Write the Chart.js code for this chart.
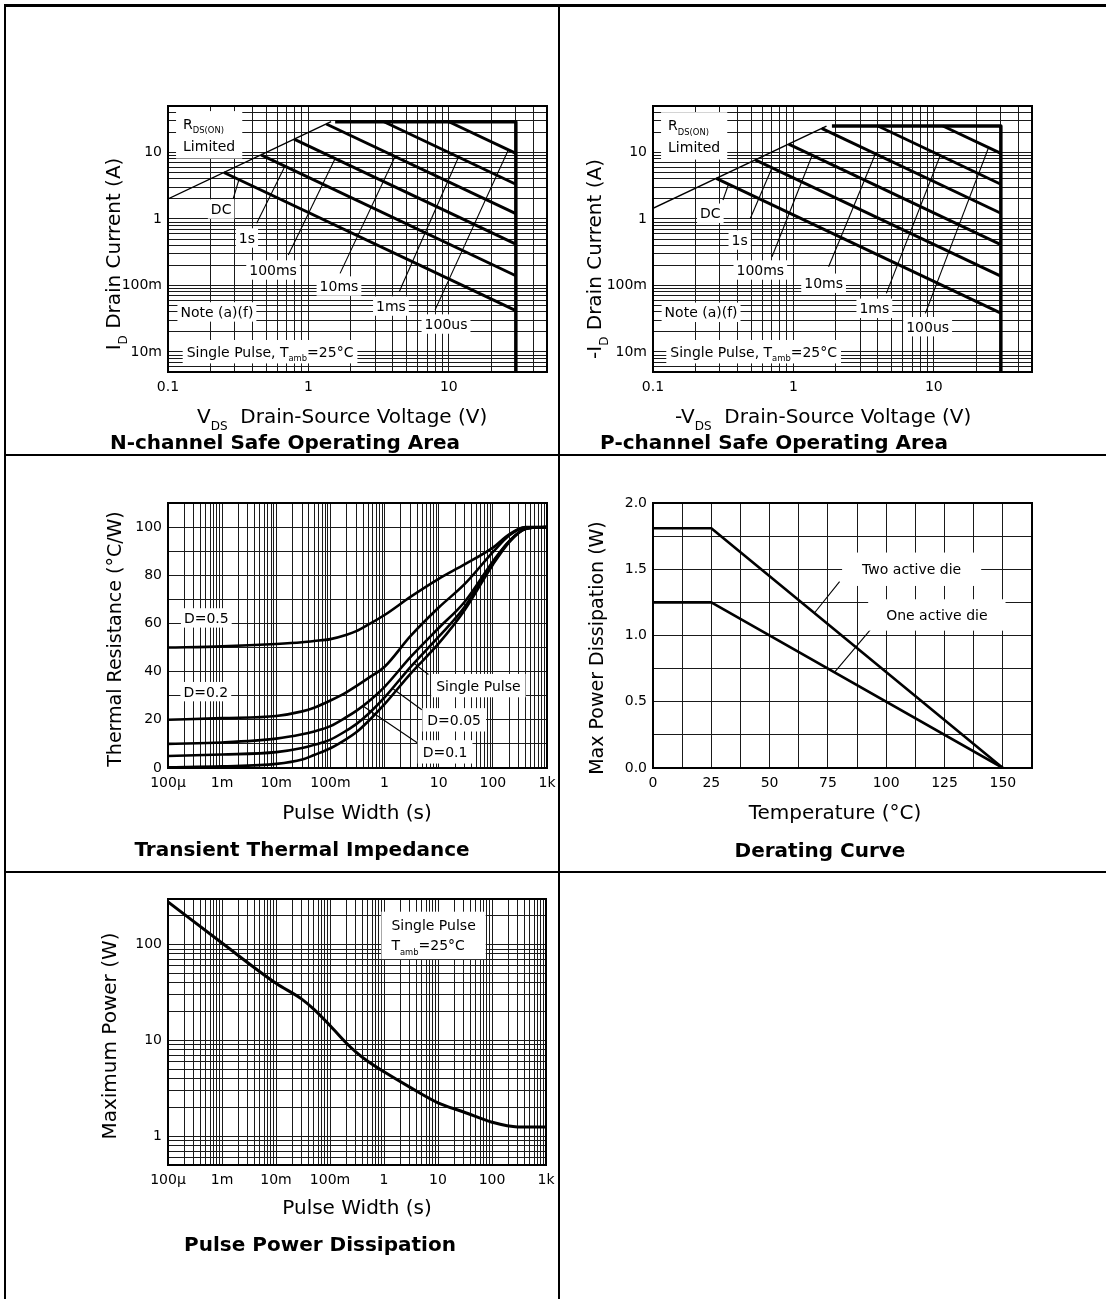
<!DOCTYPE html>
<html><head><meta charset="utf-8">
<script src="https://cdn.jsdelivr.net/npm/chart.js@4/dist/chart.umd.min.js"></script>
<style>
html,body{margin:0;padding:0;background:#fff}
body{width:1106px;height:1299px;position:relative;overflow:hidden}
canvas{position:absolute}
.ln{position:absolute;background:#000}
</style></head><body>
<canvas id="c1"></canvas><canvas id="c2"></canvas><canvas id="c3"></canvas><canvas id="c4"></canvas><canvas id="c5"></canvas>
<div class="ln" style="left:4px;top:4px;width:1102px;height:3px"></div>
<div class="ln" style="left:4px;top:4px;width:2px;height:1295px"></div>
<div class="ln" style="left:558px;top:4px;width:2px;height:1295px"></div>
<div class="ln" style="left:4px;top:454px;width:1102px;height:2px"></div>
<div class="ln" style="left:4px;top:871px;width:1102px;height:2px"></div>
<script>
// ================= DATA =================
// N-channel safe operating area  [V, A]
const nRdsLimit = [[0.1, 2.0], [1.45, 29]];
const nEnvelope = [[1.55, 29], [30, 29], [30, 0.005]];
const nDC    = [[0.25, 5.0], [30, 0.042]];
const n1s    = [[0.46, 9.2], [30, 0.14]];
const n100ms = [[0.79, 15.9], [30, 0.42]];
const n10ms  = [[1.34, 26.8], [30, 1.2]];
const n1ms   = [[3.45, 29], [30, 3.33]];
const n100us = [[10, 29], [30, 9.67]];
// P-channel safe operating area  [-V, -A]
const pRdsLimit = [[0.1, 1.45], [1.72, 25]];
const pEnvelope = [[1.88, 25], [30, 25], [30, 0.005]];
const pDC    = [[0.282, 4.08], [30, 0.0383]];
const p1s    = [[0.535, 7.76], [30, 0.138]];
const p100ms = [[0.925, 13.4], [30, 0.413]];
const p10ms  = [[1.59, 23.0], [30, 1.22]];
const p1ms   = [[4.0, 25], [30, 3.33]];
const p100us = [[11.6, 25], [30, 9.67]];
// Transient thermal impedance (°C/W) vs pulse width (s)
const zthTime   = [1e-4, 1e-3, 0.01, 0.03, 0.05, 0.1, 0.2, 0.3, 0.5, 1, 3, 10, 30, 100, 200, 400, 1000];
const zthD05    = [50, 50.5, 51.5, 52.2, 52.7, 53.5, 55.3, 56.8, 59.5, 63.5, 71, 78.5, 84.5, 91.5, 97, 100, 100];
const zthD02    = [20, 20.7, 21.6, 23.5, 25, 28, 31.5, 34, 37.3, 42, 54.7, 66.6, 76.3, 89.6, 96.5, 99.9, 100];
const zthD01    = [10, 10.6, 12.2, 14, 15.2, 17.4, 21.2, 23.7, 27.5, 33.7, 46, 58.1, 68.9, 85.7, 94.2, 99.2, 100];
const zthD005   = [5, 5.6, 6.6, 8.3, 9.6, 11.8, 15.6, 18.2, 22.4, 29.3, 41.9, 54.5, 66.8, 85.4, 94.1, 99.3, 100];
const zthSingle = [0.3, 0.7, 1.7, 3.5, 5.4, 8.2, 12.1, 14.8, 19.4, 26.5, 39.1, 51.7, 65.5, 84.4, 93.7, 99.2, 100];
// Derating curve
const derTemp   = [0, 25, 150];
const derTwoDie = [1.81, 1.81, 0];
const derOneDie = [1.25, 1.25, 0];
// Pulse power dissipation
const ppdTime  = [1e-4, 1e-3, 0.01, 0.03, 0.05, 0.1, 0.2, 0.3, 0.5, 1, 3, 10, 30, 100, 300, 1000];
const ppdPower = [280, 104, 39.5, 27, 21.2, 14.3, 9.4, 7.6, 6.05, 4.7, 3.25, 2.23, 1.79, 1.4, 1.25, 1.25];
// Tick labels
const soaXTicks = [0.1, 1, 10];           const soaXLabels = ['0.1', '1', '10'];
const soaYTicks = [0.01, 0.1, 1, 10];     const soaYLabels = ['10m', '100m', '1', '10'];
const pwXTicks  = [1e-4, 1e-3, 1e-2, 0.1, 1, 10, 100, 1000];
const pwXLabels = ['100µ', '1m', '10m', '100m', '1', '10', '100', '1k'];
const zthYTicks = [0, 20, 40, 60, 80, 100]; const zthYLabels = ['0', '20', '40', '60', '80', '100'];
const derXTicks = [0, 25, 50, 75, 100, 125, 150]; const derXLabels = ['0', '25', '50', '75', '100', '125', '150'];
const derYTicks = [0, 0.5, 1, 1.5, 2];    const derYLabels = ['0.0', '0.5', '1.0', '1.5', '2.0'];
const ppdYTicks = [1, 10, 100];           const ppdYLabels = ['1', '10', '100'];

// ================= HELPERS =================
const FAM = '"DejaVu Sans", "Liberation Sans", sans-serif';
Chart.defaults.font.family = FAM;
Chart.defaults.color = '#000';
const fnt = (s, b) => (b ? 'bold ' : '') + s + 'px ' + FAM;
const pts = a => a.map(([x, y]) => ({x, y}));
const zipPts = (xs, ys) => xs.map((x, i) => ({x, y: ys[i]}));

function logGrid(min, max) {
  const out = [];
  for (let e = Math.floor(Math.log10(min)) - 1; e <= Math.ceil(Math.log10(max)); e++)
    for (let m = 1; m < 10; m++) {
      const v = +(m * Math.pow(10, e)).toPrecision(8);
      if (v >= min * 0.9999 && v <= max * 1.0001) out.push(v);
    }
  return out;
}
function linGrid(min, max, step) {
  const out = [];
  for (let v = min; v <= max + 1e-9; v += step) out.push(+v.toFixed(6));
  return out;
}
function fmt(vals, texts) {
  return v => {
    for (let i = 0; i < vals.length; i++)
      if (Math.abs(v - vals[i]) <= Math.abs(vals[i]) * 1e-6 + 1e-9) return texts[i];
    return '';
  };
}
function axis(type, min, max, grid, tv, tt, pad) {
  return {
    type, min, max,
    afterBuildTicks: s => { s.ticks = grid.map(v => ({value: v})); },
    ticks: {autoSkip: false, maxRotation: 0, minRotation: 0, font: {size: 14}, color: '#000',
            padding: pad, callback: fmt(tv, tt)},
    grid: {color: '#1a1a1a', lineWidth: 1, drawTicks: false},
    border: {display: false}
  };
}
function partsWidth(ctx, parts, fs, bold) {
  let w = 0;
  for (const [t, k] of parts) { ctx.font = fnt(k === 'sub' ? fs * 0.6 : fs, bold); w += ctx.measureText(t).width; }
  return w;
}
function drawParts(ctx, parts, x, y, fs, bold) {
  for (const [t, k] of parts) {
    const s = k === 'sub' ? fs * 0.6 : fs;
    ctx.font = fnt(s, bold);
    ctx.fillText(t, x, y + (k === 'sub' ? fs * 0.33 : 0));
    x += ctx.measureText(t).width;
  }
}
function drawLabel(chart, lab) {
  const {ctx} = chart, xs = chart.scales.x, ys = chart.scales.y;
  const fs = lab.size || 14, lh = lab.gap || fs * 1.45;
  const widths = lab.lines.map(l => partsWidth(ctx, l, fs));
  const maxW = Math.max(...widths);
  const px = xs.getPixelForValue(lab.x), py = ys.getPixelForValue(lab.y);
  const left = lab.align === 'left' ? px : px - maxW / 2;
  const padX = lab.pad ? lab.pad[0] : 3, padY = lab.pad ? lab.pad[1] : 2;
  const top = py - fs * 0.55 - padY;
  const bottom = py + (lab.lines.length - 1) * lh + fs * 0.55 + padY;
  ctx.fillStyle = '#fff';
  ctx.fillRect(left - padX, top, maxW + 2 * padX, bottom - top);
  ctx.fillStyle = '#000';
  ctx.textAlign = 'left'; ctx.textBaseline = 'alphabetic';
  lab.lines.forEach((l, i) => {
    const lx = lab.align === 'left' ? left : px - widths[i] / 2;
    drawParts(ctx, l, lx, py + i * lh + fs * 0.36, fs);
  });
}
function drawTitle(ctx, t, ox, oy) {
  const fs = t.size;
  ctx.save();
  ctx.fillStyle = '#000'; ctx.textAlign = 'left'; ctx.textBaseline = 'alphabetic';
  const w = partsWidth(ctx, t.parts, fs, t.bold);
  if (t.rot) {
    ctx.translate(t.x - ox, t.y - oy);
    ctx.rotate(-Math.PI / 2);
    drawParts(ctx, t.parts, -w / 2, 0, fs, t.bold);
  } else {
    const x0 = t.align === 'left' ? t.x - ox : t.x - ox - w / 2;
    drawParts(ctx, t.parts, x0, t.y - oy, fs, t.bold);
  }
  ctx.restore();
}

function makeChart(id, c) {
  const el = document.getElementById(id);
  el.width = c.box[2]; el.height = c.box[3];
  el.style.left = c.box[0] + 'px'; el.style.top = c.box[1] + 'px';
  const [cx, cy, cw, ch] = c.box, [L, T, R, B] = c.plot;
  const WY = 60, HX = 30;
  c.scales.x.afterFit = s => { s.height = HX; s.paddingLeft = 0; s.paddingRight = 0; };
  c.scales.y.afterFit = s => { s.width = WY; s.paddingTop = 0; s.paddingBottom = 0; };
  return new Chart(el, {
    type: 'line',
    data: {datasets: c.datasets.map(d => Object.assign({
      borderColor: '#000', backgroundColor: '#000', pointRadius: 0, fill: false,
      tension: 0, borderJoinStyle: 'round', borderCapStyle: 'butt'}, d))},
    options: {
      responsive: false, animation: false, devicePixelRatio: 1,
      layout: {padding: {left: L - cx - WY, top: T - cy, right: cx + cw - R, bottom: cy + ch - B - HX}},
      plugins: {legend: {display: false}, tooltip: {enabled: false}},
      scales: c.scales,
      events: []
    },
    plugins: [{
      id: 'decor_' + id,
      afterDatasetsDraw(chart) {
        const ctx = chart.ctx, a = chart.chartArea;
        (c.labels || []).forEach(l => drawLabel(chart, l));
        ctx.save();
        ctx.strokeStyle = '#000'; ctx.lineWidth = 2;
        ctx.strokeRect(a.left, a.top, a.right - a.left, a.bottom - a.top);
        ctx.restore();
        (c.titles || []).forEach(t => drawTitle(ctx, t, cx, cy));
      }
    }]
  });
}
const thick = 3, thin = 1.1;
const lineDS = (arr, w) => ({data: pts(arr), borderWidth: w});

// ================= CHART 1: N-channel SOA =================
makeChart('c1', {
  box: [6, 7, 552, 447], plot: [168, 106, 547, 372],
  scales: {
    x: axis('logarithmic', 0.1, 50, logGrid(0.1, 50), soaXTicks, soaXLabels, 7),
    y: axis('logarithmic', 0.005, 50, logGrid(0.005, 50), soaYTicks, soaYLabels, 6)
  },
  datasets: [
    lineDS(nRdsLimit, 1.4), lineDS(nEnvelope, 3.5),
    lineDS(nDC, thick), lineDS(n1s, thick), lineDS(n100ms, thick),
    lineDS(n10ms, thick), lineDS(n1ms, thick), lineDS(n100us, thick),
    lineDS([[0.292, 2.05], [0.32, 3.9]], thin), lineDS([[0.428, 0.86], [0.68, 6.2]], thin),
    lineDS([[0.719, 0.288], [1.55, 8.1]], thin), lineDS([[1.68, 0.152], [4.14, 8.7]], thin),
    lineDS([[4.44, 0.081], [11.7, 8.5]], thin), lineDS([[7.98, 0.043], [26.5, 10.9]], thin)
  ],
  labels: [
    {lines: [[['R'], ['DS(ON)', 'sub']], [['Limited']]], x: 0.128, y: 27, align: 'left', gap: 22, pad: [7, 5]},
    {lines: [[['DC']]], x: 0.239, y: 1.41},
    {lines: [[['1s']]], x: 0.365, y: 0.518},
    {lines: [[['100ms']]], x: 0.56, y: 0.171},
    {lines: [[['10ms']]], x: 1.65, y: 0.098},
    {lines: [[['1ms']]], x: 3.87, y: 0.049},
    {lines: [[['100us']]], x: 9.55, y: 0.0263},
    {lines: [[['Note (a)(f)']]], x: 0.223, y: 0.04},
    {lines: [[['Single Pulse, T'], ['amb', 'sub'], ['=25°C']]], x: 0.533, y: 0.0101, pad: [4, 4]}
  ],
  titles: [
    {parts: [['I'], ['D', 'sub'], [' Drain Current (A)']], x: 120, y: 254, size: 20, rot: true},
    {parts: [['V'], ['DS', 'sub'], ['  Drain-Source Voltage (V)']], x: 197, y: 423, size: 20, align: 'left'},
    {parts: [['N-channel Safe Operating Area']], x: 285, y: 449, size: 20, bold: true}
  ]
});

// ================= CHART 2: P-channel SOA =================
makeChart('c2', {
  box: [560, 7, 546, 447], plot: [653, 106, 1032, 372],
  scales: {
    x: axis('logarithmic', 0.1, 50, logGrid(0.1, 50), soaXTicks, soaXLabels, 7),
    y: axis('logarithmic', 0.005, 50, logGrid(0.005, 50), soaYTicks, soaYLabels, 6)
  },
  datasets: [
    lineDS(pRdsLimit, 1.4), lineDS(pEnvelope, 3.5),
    lineDS(pDC, thick), lineDS(p1s, thick), lineDS(p100ms, thick),
    lineDS(p10ms, thick), lineDS(p1ms, thick), lineDS(p100us, thick),
    lineDS([[0.315, 1.93], [0.345, 3.33]], thin), lineDS([[0.493, 1.02], [0.704, 5.9]], thin),
    lineDS([[0.704, 0.271], [1.36, 9.1]], thin), lineDS([[1.78, 0.191], [3.83, 9.5]], thin),
    lineDS([[4.59, 0.076], [11.1, 9.0]], thin), lineDS([[8.7, 0.038], [24.5, 11.8]], thin)
  ],
  labels: [
    {lines: [[['R'], ['DS(ON)', 'sub']], [['Limited']]], x: 0.128, y: 26, align: 'left', gap: 22, pad: [7, 5]},
    {lines: [[['DC']]], x: 0.256, y: 1.22},
    {lines: [[['1s']]], x: 0.414, y: 0.483},
    {lines: [[['100ms']]], x: 0.581, y: 0.171},
    {lines: [[['10ms']]], x: 1.64, y: 0.108},
    {lines: [[['1ms']]], x: 3.77, y: 0.0454},
    {lines: [[['100us']]], x: 9.03, y: 0.024},
    {lines: [[['Note (a)(f)']]], x: 0.22, y: 0.0395},
    {lines: [[['Single Pulse, T'], ['amb', 'sub'], ['=25°C']]], x: 0.521, y: 0.0101, pad: [4, 4]}
  ],
  titles: [
    {parts: [['-I'], ['D', 'sub'], [' Drain Current (A)']], x: 601, y: 259, size: 20, rot: true},
    {parts: [['-V'], ['DS', 'sub'], ['  Drain-Source Voltage (V)']], x: 675, y: 423, size: 20, align: 'left'},
    {parts: [['P-channel Safe Operating Area']], x: 774, y: 449, size: 20, bold: true}
  ]
});

// ================= CHART 3: Transient thermal impedance =================
makeChart('c3', {
  box: [6, 456, 552, 415], plot: [168, 503, 547, 768],
  scales: {
    x: axis('logarithmic', 1e-4, 1000, logGrid(1e-4, 1000), pwXTicks, pwXLabels, 7),
    y: axis('linear', 0, 110, linGrid(0, 110, 10), zthYTicks, zthYLabels, 6)
  },
  datasets: [
    {data: zipPts(zthTime, zthD05), borderWidth: 2.6, cubicInterpolationMode: 'monotone'},
    {data: zipPts(zthTime, zthD02), borderWidth: 2.6, cubicInterpolationMode: 'monotone'},
    {data: zipPts(zthTime, zthD01), borderWidth: 2.6, cubicInterpolationMode: 'monotone'},
    {data: zipPts(zthTime, zthD005), borderWidth: 2.6, cubicInterpolationMode: 'monotone'},
    {data: zipPts(zthTime, zthSingle), borderWidth: 2.6, cubicInterpolationMode: 'monotone'},
    lineDS([[6.45, 38.8], [3.4, 43.7]], thin),
    lineDS([[4.87, 24.2], [1.45, 32.8]], thin),
    lineDS([[4.2, 10.2], [0.405, 25.6]], thin)
  ],
  labels: [
    {lines: [[['D=0.5']]], x: 5.1e-4, y: 62.3},
    {lines: [[['D=0.2']]], x: 5.0e-4, y: 31.7},
    {lines: [[['Single Pulse']]], x: 54, y: 34.2, pad: [5, 4]},
    {lines: [[['D=0.05']]], x: 19.3, y: 20, pad: [5, 4]},
    {lines: [[['D=0.1']]], x: 13.1, y: 6.7, pad: [5, 4]}
  ],
  titles: [
    {parts: [['Thermal Resistance (°C/W)']], x: 121, y: 639, size: 19, rot: true},
    {parts: [['Pulse Width (s)']], x: 357, y: 819, size: 20},
    {parts: [['Transient Thermal Impedance']], x: 302, y: 856, size: 20, bold: true}
  ]
});

// ================= CHART 4: Derating curve =================
makeChart('c4', {
  box: [560, 456, 546, 415], plot: [653, 503, 1032, 768],
  scales: {
    x: axis('linear', 0, 162.5, linGrid(0, 162.5, 12.5), derXTicks, derXLabels, 7),
    y: axis('linear', 0, 2, linGrid(0, 2, 0.25), derYTicks, derYLabels, 6)
  },
  datasets: [
    {data: zipPts(derTemp, derTwoDie), borderWidth: 2.6},
    {data: zipPts(derTemp, derOneDie), borderWidth: 2.6},
    lineDS([[80, 1.407], [69.2, 1.17]], thin),
    lineDS([[93.7, 1.054], [77.8, 0.722]], thin)
  ],
  labels: [
    {lines: [[['Two active die']]], x: 110.9, y: 1.5, pad: [20, 9]},
    {lines: [[['One active die']]], x: 121.7, y: 1.155, pad: [18, 8]}
  ],
  titles: [
    {parts: [['Max Power Dissipation (W)']], x: 603, y: 648, size: 19, rot: true},
    {parts: [['Temperature (°C)']], x: 835, y: 819, size: 20},
    {parts: [['Derating Curve']], x: 820, y: 857, size: 20, bold: true}
  ]
});

// ================= CHART 5: Pulse power dissipation =================
makeChart('c5', {
  box: [6, 873, 552, 426], plot: [168, 899, 546, 1165],
  scales: {
    x: axis('logarithmic', 1e-4, 1000, logGrid(1e-4, 1000), pwXTicks, pwXLabels, 7),
    y: axis('logarithmic', 0.5, 300, logGrid(0.5, 300), ppdYTicks, ppdYLabels, 6)
  },
  datasets: [
    {data: zipPts(ppdTime, ppdPower), borderWidth: 3, cubicInterpolationMode: 'monotone'}
  ],
  labels: [
    {lines: [[['Single Pulse']], [['T'], ['amb', 'sub'], ['=25°C']]], x: 1.37, y: 159, align: 'left', gap: 20, pad: [10, 6]}
  ],
  titles: [
    {parts: [['Maximum Power (W)']], x: 116, y: 1036, size: 20, rot: true},
    {parts: [['Pulse Width (s)']], x: 357, y: 1214, size: 20},
    {parts: [['Pulse Power Dissipation']], x: 320, y: 1251, size: 20, bold: true}
  ]
});
</script>
</body></html>
